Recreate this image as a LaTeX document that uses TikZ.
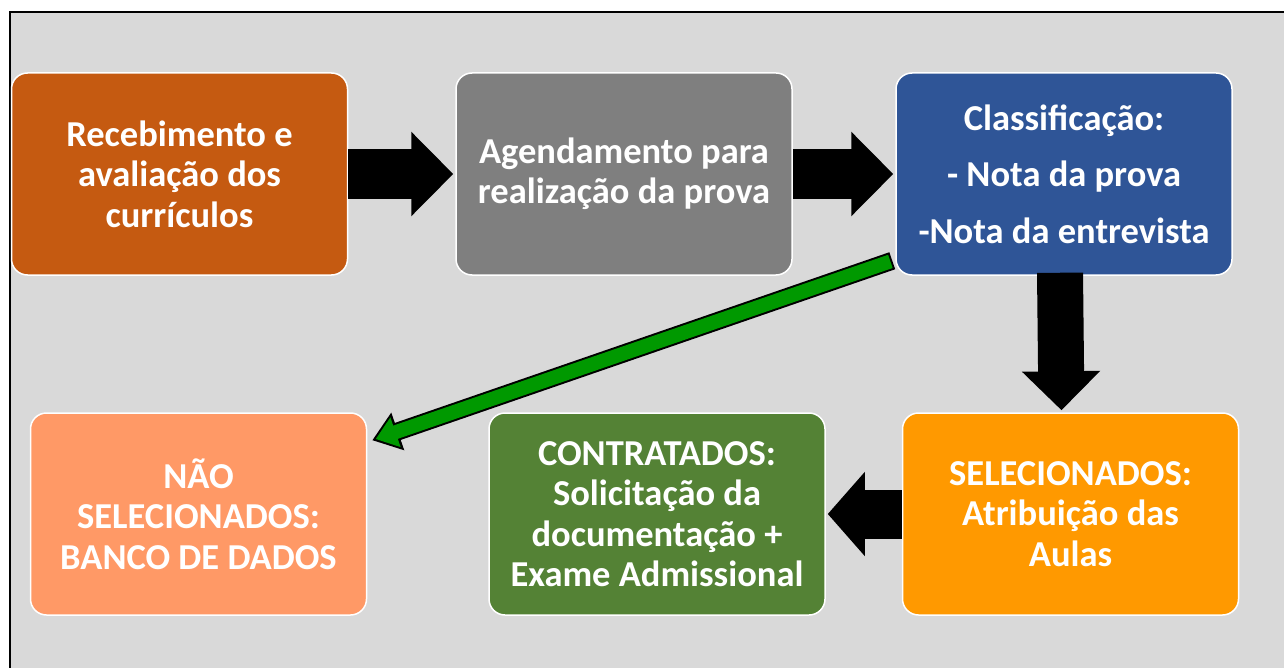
\documentclass[tikz,border=0pt]{standalone}
\usepackage{fontspec}
\setmainfont{Carlito}
\usetikzlibrary{arrows.meta}

\definecolor{fundo}{HTML}{D9D9D9}
\definecolor{cRecv}{HTML}{C55A11}
\definecolor{cAgen}{HTML}{7F7F7F}
\definecolor{cClas}{HTML}{2F5597}
\definecolor{cSele}{HTML}{FF9900}
\definecolor{cCont}{HTML}{548235}
\definecolor{cNao}{HTML}{FF9966}
\definecolor{cSeta}{HTML}{009900}

\begin{document}
\begin{tikzpicture}
  [x=1pt,y=-1pt,
   every node/.style={rectangle,rounded corners=16pt,draw=white,line width=1.5pt,
     minimum width=336pt,minimum height=202pt,align=center,text=white,
     font=\fontsize{36.5}{40.5}\selectfont\bfseries},
   bloco/.style={line width=50pt,shorten >=2pt,-{Triangle[length=42pt,width=82pt]}}]
  \useasboundingbox (0,0) rectangle (1284,668);
  \fill[fundo] (10,12) rectangle (1290,675);
  \draw[line width=2pt] (1290,12) -- (10,12) -- (10,675);
  \node[fill=cRecv] (recv) at (179.5,174) {Recebimento e\\avaliação dos\\currículos};
  \node[fill=cAgen] (agen) at (624,174) {Agendamento para\\realização da prova};
  \node[fill=cClas] (clas) at (1064,174) {Classificação:\\[16pt]- Nota da prova\\[16pt]-Nota da entrevista};
  \node[fill=cNao] (nao) at (198.5,514) {NÃO\\SELECIONADOS:\\BANCO DE DADOS};
  \node[fill=cCont] (cont) at (657,514) {CONTRATADOS:\\Solicitação da\\documentação +\\Exame Admissional};
  \node[fill=cSele] (sele) at (1070.5,514) {SELECIONADOS:\\Atribuição das\\Aulas};
  \foreach \from/\to in {recv/agen,agen/clas}
    \draw[bloco] (\from) -- (\to);
  \draw[bloco,line width=46pt,-{Triangle[length=39pt,width=76pt]}]
    ([xshift=-4pt,yshift=3pt]clas.south) -- ([xshift=-9pt]sele.north);
  \draw[bloco,line width=49pt,-{Triangle[length=37pt,width=82pt]}]
    (sele.west) -- (cont.east);
  \coordinate (gs) at ([xshift=-3pt,yshift=15pt]clas.south west);
  \coordinate (gt) at ([xshift=5pt,yshift=-28pt]nao.north east);
  \draw[line width=18pt,-{Triangle[length=27pt,width=38pt]}] (gs) -- (gt);
  \draw[cSeta,line width=14pt,shorten <=2pt,shorten >=3.6pt,
    -{Triangle[length=21pt,width=30pt]}] (gs) -- (gt);
\end{tikzpicture}
\end{document}
